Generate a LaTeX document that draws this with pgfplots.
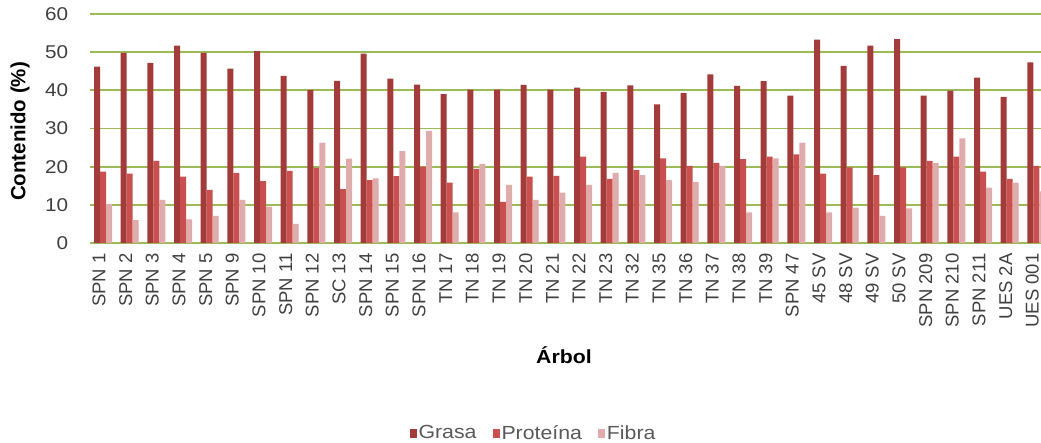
\documentclass[border=0pt]{standalone}
\usepackage{pgfplots}
\pgfplotsset{compat=1.18}
\usepackage{pgfplotstable}
\usepackage{fontspec}
\setmainfont{Liberation Sans}
\newfontfamily\widefont[FakeStretch=1.12]{Liberation Sans}
\definecolor{grasa}{HTML}{A33B3B}
\definecolor{prot}{HTML}{C9504E}
\definecolor{fibra}{HTML}{E0ABAB}
\definecolor{gridg}{HTML}{9BBB59}
\definecolor{txt}{HTML}{404040}
\definecolor{legtxt}{HTML}{595959}
\pgfplotstableread{
x grasa prot fibra
0  46.2 18.7 10.2
1  49.8 18.2 6.0
2  47.2 21.5 11.3
3  51.7 17.4 6.2
4  49.8 13.9 7.1
5  45.7 18.4 11.3
6  50.3 16.2 9.5
7  43.8 18.9 5.0
8  40.1 19.7 26.3
9  42.5 14.1 22.1
10 49.6 16.5 16.9
11 43.1 17.5 24.1
12 41.5 20.0 29.4
13 39.0 15.8 8.0
14 40.2 19.4 20.7
15 40.2 10.8 15.2
16 41.4 17.4 11.3
17 40.2 17.6 13.2
18 40.7 22.6 15.2
19 39.6 16.8 18.4
20 41.3 19.1 17.8
21 36.3 22.2 16.5
22 39.3 20.2 16.0
23 44.2 21.0 20.2
24 41.2 22.0 8.0
25 42.4 22.6 22.2
26 38.6 23.2 26.3
27 53.3 18.2 8.0
28 46.4 19.8 9.3
29 51.7 17.8 7.1
30 53.4 19.8 9.1
31 38.6 21.5 20.9
32 39.9 22.6 27.4
33 43.3 18.7 14.5
34 38.3 16.8 15.8
35 47.3 20.2 13.5
}\datatable
\begin{document}
\begin{tikzpicture}[x=1pt,y=1pt]
\useasboundingbox (0,0) rectangle (1041,443);
\begin{axis}[
  at={(89.7pt,200pt)}, anchor=south west,
  scale only axis, width=960pt, height=229pt,
  ybar=0pt, bar width=6pt,
  xmin=-0.5, xmax=35.5, ymin=0, ymax=60,
  ytick={0,10,...,60},
  xtick={0,...,35},
  xticklabels={SPN 1,SPN 2,SPN 3,SPN 4,SPN 5,SPN 9,SPN 10,SPN 11,SPN 12,SC 13,SPN 14,SPN 15,SPN 16,TN 17,TN 18,TN 19,TN 20,TN 21,TN 22,TN 23,TN 32,TN 35,TN 36,TN 37,TN 38,TN 39,SPN 47,45 SV,48 SV,49 SV,50 SV,SPN 209,SPN 210,SPN 211,UES 2A,UES 001},
  /pgf/number format/assume math mode=true,
  axis line style={draw=none},
  major tick length=0pt,
  ymajorgrids, grid style={gridg, line width=1.8pt},
  yticklabel style={font=\widefont\fontsize{18.5}{20}\selectfont, text=txt, xshift=-18pt},
  xticklabel style={font=\fontsize{18.5}{20}\selectfont, text=txt, xshift=-4pt, yshift=-7pt, rotate=90, anchor=east},
  xlabel={\textbf{Árbol}},
  xlabel style={font=\widefont\fontsize{19}{22}\selectfont, at={(axis description cs:0.494,-0.489)}, anchor=center},
  ylabel={\textbf{Contenido (\%)}},
  ylabel style={font=\fontsize{20.5}{22}\selectfont, at={(axis description cs:-0.0726,0.487)}, anchor=center, rotate=0},
  legend columns=3,
  legend style={draw=none, fill=none, font=\widefont\fontsize{19}{22}\selectfont, text=legtxt,
    at={(axis description cs:0.4623,-0.83)}, anchor=center,
    /tikz/every even column/.append style={column sep=14pt}},
  legend image code/.code={\fill[#1] (0pt,-4.5pt) rectangle (7pt,4.5pt);},
]
\addplot[fill=grasa, draw=none] table[x=x,y=grasa]{\datatable};
\addplot[fill=prot, draw=none] table[x=x,y=prot]{\datatable};
\addplot[fill=fibra, draw=none] table[x=x,y=fibra]{\datatable};
\legend{Grasa,Proteína,Fibra}
\end{axis}
\end{tikzpicture}
\end{document}
